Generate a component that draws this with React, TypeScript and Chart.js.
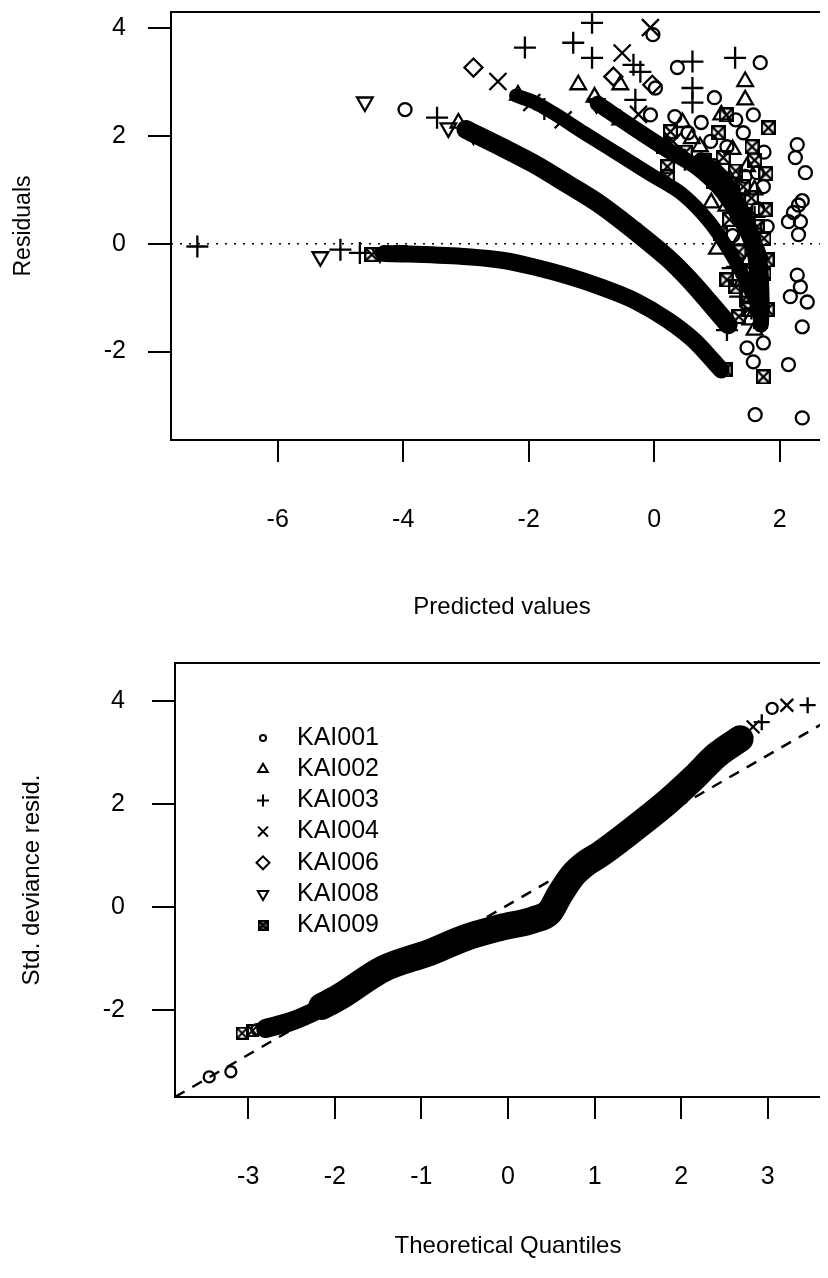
import React, { useEffect, useRef } from "react";
import { Chart, registerables } from "chart.js";
import { drawPoint } from "chart.js/helpers";

Chart.register(...registerables);

const FONT = "'Liberation Sans', Arial, Helvetica, sans-serif";

type P = [number, number];

const seriesNames = ["KAI001", "KAI002", "KAI003", "KAI004", "KAI006", "KAI008", "KAI009"];

// ---------- Top panel: [predicted value, residual] ----------
const residKAI001: P[] = [
  [-3.97, 2.49], [-0.02, 3.88], [0.02, 2.89], [-0.06, 2.39], [0.37, 3.27], [1.69, 3.36],
  [0.96, 2.71], [0.33, 2.36], [0.54, 2.06], [1.16, 1.8], [1.58, 2.39], [1.42, 2.06],
  [1.64, 1.32], [1.74, 1.06], [1.8, 0.32], [0.95, 1.45], [1.25, 0.95], [1.5, 0.25],
  [0.75, 2.25], [1.3, 2.3], [0.9, 1.9], [1.75, 1.7], [1.45, 1.25], [1.65, 0.65],
  [1.25, 0.15], [1.7, -1.1],
  [1.48, -1.93], [1.74, -1.84], [1.58, -2.19], [2.14, -2.24], [1.61, -3.17], [2.36, -3.23],
  [2.28, 1.84], [2.25, 1.6], [2.41, 1.32], [2.3, 0.72], [2.36, 0.8], [2.22, 0.58],
  [2.14, 0.41], [2.33, 0.41], [2.3, 0.17], [2.28, -0.58], [2.33, -0.8], [2.17, -0.98],
  [2.44, -1.08], [2.36, -1.54],
];
const residKAI002: P[] = [
  [-3.12, 2.24], [-2.17, 2.76], [-1.21, 2.95], [-0.54, 2.95], [-0.54, 2.3], [-0.95, 2.72],
  [1.07, 2.39], [1.45, 3.01], [1.45, 2.67], [0.73, 1.8], [1.48, 1.43], [0.91, 0.76],
  [1.37, 0.07], [1.48, -0.35], [1.53, -1.41], [0.45, 2.25], [1.2, 1.2], [1.0, -0.1],
  [0.6, 1.95], [1.25, 1.75], [1.6, 1.0], [1.15, 0.7], [1.7, -0.2], [1.4, -0.7], [1.6, -1.6],
];
const residKAI003: P[] = [
  [-7.28, -0.05], [-5.0, -0.11], [-4.69, -0.17], [-3.46, 2.34], [-2.06, 3.64], [-1.29, 3.73],
  [-0.99, 4.1], [-0.99, 3.45], [-0.33, 3.32], [-0.22, 3.19], [-0.3, 2.67], [0.61, 3.38],
  [0.61, 2.89], [0.61, 2.62], [1.29, 3.45], [0.49, 1.56], [1.32, -0.43], [1.37, -0.98],
  [1.16, -1.6], [-1.75, 2.5], [0.9, 1.2], [1.35, 0.9], [1.6, 0.5], [1.25, -0.45], [1.55, -1.2],
];
const residKAI004: P[] = [
  [-2.49, 3.01], [-0.51, 3.54], [-0.06, 4.01], [-1.95, 2.62], [-1.45, 2.3], [-0.25, 2.4], [0.3, 1.9],
];
const residKAI006: P[] = [
  [-2.88, 3.27], [-0.65, 3.1], [-0.03, 2.95],
];
const residKAI008: P[] = [
  [-4.61, 2.63], [-5.32, -0.24], [-4.37, -0.17], [-3.28, 2.15], [-2.88, 2.02], [-0.92, 2.6],
];
const residKAI009: P[] = [
  [-4.05, -0.17], [-4.5, -0.2], [1.15, 2.39], [1.82, 2.15], [1.02, 2.06], [0.26, 2.08],
  [0.15, 1.8], [1.56, 1.8], [0.21, 1.43], [0.21, 1.24], [1.42, 1.06], [1.26, 0.69],
  [1.77, 0.63], [1.64, 0.32], [1.05, 0.2], [1.8, -0.3], [1.16, -0.67], [1.64, -0.72],
  [1.8, -1.22], [1.5, -1.22], [1.13, -2.34], [1.74, -2.47], [1.7, -0.95], [1.78, 1.3],
  [0.5, 1.7], [0.8, 1.55], [1.1, 1.6], [1.3, 1.35], [1.6, 1.55], [0.95, 1.15],
  [1.55, 0.85], [1.2, 0.45], [1.45, 0.55], [1.75, 0.1], [1.35, -0.15], [1.55, -0.5],
  [1.75, -0.55], [1.3, -0.8], [1.5, -0.95], [1.7, -1.45], [1.35, -1.35],
];

// dense bands of overlapping markers (centre lines)
const residBandA: P[] = [
  [-4.3, -0.18], [-3.9, -0.19], [-2.97, -0.24], [-2.4, -0.31], [-1.91, -0.43], [-1.37, -0.6],
  [-0.85, -0.8], [-0.32, -1.05], [0.22, -1.42], [0.64, -1.8], [0.96, -2.2], [1.07, -2.34],
];
const residBandB: P[] = [
  [-3.0, 2.12], [-2.44, 1.8], [-1.91, 1.48], [-1.37, 1.1], [-0.85, 0.72], [-0.32, 0.25],
  [0.22, -0.27], [0.54, -0.64], [0.86, -1.06], [1.18, -1.5],
];
const residBandC: P[] = [
  [-2.2, 2.75], [-1.9, 2.62], [-1.6, 2.42], [-1.12, 2.06], [-0.57, 1.66], [-0.05, 1.28],
  [0.47, 0.9], [0.87, 0.42], [1.17, -0.08], [1.4, -0.55], [1.58, -0.98], [1.7, -1.3],
];
const residBandD: P[] = [
  [-0.9, 2.6], [-0.33, 2.15], [0.2, 1.75], [0.7, 1.4], [1.1, 0.95], [1.4, 0.4],
  [1.6, -0.15], [1.68, -0.7], [1.65, -1.2],
];
const residBandE: P[] = [
  [0.75, 1.55], [1.1, 1.2], [1.4, 0.6], [1.6, 0.0], [1.7, -0.6], [1.72, -1.2], [1.7, -1.5],
];

const predTicks = [-6, -4, -2, 0, 2];
const residTicks = [-2, 0, 2, 4];
const predLimits = [-7.7, 2.85];
const residLimits = [-3.64, 4.3];

// ---------- Bottom panel: [theoretical quantile, std. deviance residual] ----------
const qqKAI001: P[] = [[-3.45, -3.3], [-3.2, -3.2], [-2.9, -2.38], [3.05, 3.86], [2.5, 3.1]];
const qqKAI002: P[] = [[2.6, 3.22], [1.2, 1.2]];
const qqKAI003: P[] = [[2.93, 3.59], [3.46, 3.92], [2.72, 3.36]];
const qqKAI004: P[] = [[2.83, 3.5], [3.22, 3.92]];
const qqKAI006: P[] = [[0.3, -0.25], [-1.2, -1.05]];
const qqKAI008: P[] = [[-1.0, -0.95], [-2.2, -2.0]];
const qqKAI009: P[] = [[-3.07, -2.45], [-2.95, -2.4], [-2.82, -2.37]];

const qqBandLow: P[] = [[-2.8, -2.36], [-2.5, -2.22], [-2.2, -2.0], [-1.9, -1.72], [-1.6, -1.4]];
const qqBandMain: P[] = [
  [-2.15, -1.93], [-1.95, -1.75], [-1.44, -1.2], [-0.9, -0.88], [-0.5, -0.6], [-0.09, -0.4], [0.29, -0.25],
  [0.48, -0.1], [0.6, 0.25], [0.75, 0.62], [0.9, 0.85], [1.06, 1.02], [1.44, 1.5],
  [1.84, 2.04], [2.14, 2.5], [2.41, 2.95], [2.68, 3.27],
];

const qqXTicks = [-3, -2, -1, 0, 1, 2, 3];
const qqYTicks = [-2, 0, 2, 4];
const qqXLimits = [-3.845, 3.845];
const qqYLimits = [-3.69, 4.74];
const qqLineCoef = [0.04, 0.97]; // intercept, slope of the reference line

// ---------- helpers ----------
const toXY = (arr: P[]) => arr.map(([x, y]) => ({ x, y }));

function boxCross(size: number, lw: number) {
  const c = document.createElement("canvas");
  c.width = size;
  c.height = size;
  const g = c.getContext("2d")!;
  g.strokeStyle = "#000";
  g.lineWidth = lw;
  const h = lw / 2;
  g.strokeRect(h, h, size - lw, size - lw);
  g.beginPath();
  g.moveTo(h, h);
  g.lineTo(size - h, size - h);
  g.moveTo(size - h, h);
  g.lineTo(h, size - h);
  g.stroke();
  return c;
}

const boxPlugin = {
  id: "frameBox",
  afterDatasetsDraw(chart: any) {
    const { ctx, chartArea: a } = chart;
    ctx.save();
    ctx.strokeStyle = "#000";
    ctx.lineWidth = 2;
    ctx.strokeRect(a.left, a.top, a.right - a.left, a.bottom - a.top);
    ctx.restore();
  },
};

function zeroPad(s: any) {
  s.paddingTop = 0;
  s.paddingBottom = 0;
  s.paddingLeft = 0;
  s.paddingRight = 0;
}

function xAxis(ticks: number[], limits: number[], title: string, h: number, labelPad: number, titlePad: number) {
  return {
    type: "linear",
    position: "bottom",
    min: limits[0],
    max: limits[1],
    afterBuildTicks: (s: any) => {
      s.ticks = ticks.map((v) => ({ value: v }));
    },
    afterFit: (s: any) => {
      s.height = h;
      zeroPad(s);
    },
    grid: { display: true, drawOnChartArea: false, drawTicks: true, tickLength: 22, tickWidth: 2, tickColor: "#000", color: "#000", lineWidth: 2 },
    border: { display: false },
    ticks: { color: "#000", font: { family: FONT, size: 25 }, padding: labelPad, autoSkip: false, maxRotation: 0, callback: (v: any) => String(v) },
    title: { display: true, text: title, color: "#000", font: { family: FONT, size: 24 }, padding: { top: 0, bottom: titlePad } },
  };
}

function yAxis(ticks: number[], limits: number[], title: string, w: number, labelPad: number, titlePad: number, titleSize: number) {
  return {
    type: "linear",
    position: "left",
    min: limits[0],
    max: limits[1],
    afterBuildTicks: (s: any) => {
      s.ticks = ticks.map((v) => ({ value: v }));
    },
    afterFit: (s: any) => {
      s.width = w;
      zeroPad(s);
    },
    grid: { display: true, drawOnChartArea: false, drawTicks: true, tickLength: 23, tickWidth: 2, tickColor: "#000", color: "#000", lineWidth: 2 },
    border: { display: false },
    ticks: { color: "#000", font: { family: FONT, size: 25 }, padding: labelPad, autoSkip: false, callback: (v: any) => String(v) },
    title: { display: true, text: title, color: "#000", font: { family: FONT, size: titleSize }, padding: { top: titlePad, bottom: 0 } },
  };
}

function bandDataset(pts: P[], width: number) {
  return {
    type: "line",
    data: toXY(pts),
    borderColor: "#000",
    borderWidth: width,
    pointRadius: 0,
    cubicInterpolationMode: "monotone",
    borderCapStyle: "round",
    borderJoinStyle: "round",
    fill: false,
    order: 2,
  };
}

function markerDataset(pts: P[], st: any) {
  return {
    type: "scatter",
    data: toXY(pts),
    pointStyle: st.pointStyle,
    pointRadius: st.radius,
    pointRotation: st.rotation,
    pointBorderWidth: 2.3,
    pointBorderColor: "#000",
    pointBackgroundColor: "rgba(0,0,0,0)",
    order: 1,
  };
}

export default function App() {
  const topRef = useRef<HTMLCanvasElement>(null);
  const qqRef = useRef<HTMLCanvasElement>(null);

  useEffect(() => {
    const sqTop = boxCross(15, 2.2);
    const sqQQ = boxCross(13, 2);
    const sqLegend = boxCross(11, 2.5);

    const topStyles = [
      { pointStyle: "circle", radius: 6.5, rotation: 0 },
      { pointStyle: "triangle", radius: 9, rotation: 0 },
      { pointStyle: "cross", radius: 11, rotation: 0 },
      { pointStyle: "crossRot", radius: 12, rotation: 0 },
      { pointStyle: "rectRot", radius: 9, rotation: 0 },
      { pointStyle: "triangle", radius: 9, rotation: 180 },
      { pointStyle: sqTop, radius: 8, rotation: 0 },
    ];
    const qqStyles = [
      { pointStyle: "circle", radius: 5.5, rotation: 0 },
      { pointStyle: "triangle", radius: 7, rotation: 0 },
      { pointStyle: "cross", radius: 8, rotation: 0 },
      { pointStyle: "crossRot", radius: 9, rotation: 0 },
      { pointStyle: "rectRot", radius: 7, rotation: 0 },
      { pointStyle: "triangle", radius: 7, rotation: 180 },
      { pointStyle: sqQQ, radius: 7, rotation: 0 },
    ];
    const legendStyles = [
      { pointStyle: "circle", radius: 3, rotation: 0 },
      { pointStyle: "triangle", radius: 5.5, rotation: 0 },
      { pointStyle: "cross", radius: 6, rotation: 0 },
      { pointStyle: "crossRot", radius: 7, rotation: 0 },
      { pointStyle: "rectRot", radius: 6.5, rotation: 0 },
      { pointStyle: "triangle", radius: 6, rotation: 180 },
      { pointStyle: sqLegend, radius: 6, rotation: 0 },
    ];

    const topSeries = [residKAI001, residKAI002, residKAI003, residKAI004, residKAI006, residKAI008, residKAI009];
    const qqSeries = [qqKAI001, qqKAI002, qqKAI003, qqKAI004, qqKAI006, qqKAI008, qqKAI009];

    const legendPlugin = {
      id: "insetLegend",
      afterDraw(chart: any) {
        const { ctx, chartArea } = chart;
        ctx.save();
        seriesNames.forEach((name, i) => {
          const y = chartArea.top + 75 + i * 31.2;
          const sx = chartArea.left + 88;
          ctx.strokeStyle = "#000";
          ctx.fillStyle = "rgba(0,0,0,0)";
          ctx.lineWidth = 2;
          const s = legendStyles[i];
          drawPoint(ctx, { pointStyle: s.pointStyle, radius: s.radius, rotation: s.rotation, borderWidth: 2 } as any, sx, y);
          ctx.fillStyle = "#000";
          ctx.font = `25px ${FONT}`;
          ctx.textBaseline = "middle";
          ctx.textAlign = "left";
          ctx.fillText(name, chartArea.left + 122, y);
        });
        ctx.restore();
      },
    };

    const topChart = new Chart(topRef.current!, {
      type: "scatter",
      data: {
        datasets: [
          bandDataset(residBandA, 17),
          bandDataset(residBandB, 19),
          bandDataset(residBandC, 14),
          bandDataset(residBandD, 16),
          bandDataset(residBandE, 16),
          {
            type: "line",
            data: [
              { x: predLimits[0], y: 0 },
              { x: predLimits[1], y: 0 },
            ],
            borderColor: "#000",
            borderWidth: 1.5,
            borderDash: [2, 7],
            pointRadius: 0,
            fill: false,
            order: 3,
          },
          ...topSeries.map((s, i) => markerDataset(s, topStyles[i])),
        ] as any,
      },
      options: {
        responsive: false,
        animation: false,
        events: [],
        layout: { autoPadding: false, padding: { top: 4, right: 25, left: 0, bottom: 0 } },
        plugins: { legend: { display: false }, tooltip: { enabled: false } },
        scales: {
          x: xAxis(predTicks, predLimits, "Predicted values", 200, 43, 18),
          y: yAxis(residTicks, residLimits, "Residuals", 163, 22, 2, 23),
        } as any,
      },
      plugins: [boxPlugin],
    });

    const qqChart = new Chart(qqRef.current!, {
      type: "scatter",
      data: {
        datasets: [
          bandDataset(qqBandLow, 19),
          bandDataset(qqBandMain, 27),
          {
            type: "line",
            data: [
              { x: qqXLimits[0], y: qqLineCoef[0] + qqLineCoef[1] * qqXLimits[0] },
              { x: qqXLimits[1], y: qqLineCoef[0] + qqLineCoef[1] * qqXLimits[1] },
            ],
            borderColor: "#000",
            borderWidth: 2.5,
            borderDash: [11, 9],
            pointRadius: 0,
            fill: false,
            order: 3,
          },
          ...qqSeries.map((s, i) => markerDataset(s, qqStyles[i])),
        ] as any,
      },
      options: {
        responsive: false,
        animation: false,
        events: [],
        layout: { autoPadding: false, padding: { top: 23, right: 17, left: 0, bottom: 0 } },
        plugins: { legend: { display: false }, tooltip: { enabled: false } },
        scales: {
          x: xAxis(qqXTicks, qqXLimits, "Theoretical Quantiles", 171, 43, 7),
          y: yAxis(qqYTicks, qqYLimits, "Std. deviance resid.", 167, 27, 10, 24),
        } as any,
      },
      plugins: [boxPlugin, legendPlugin],
    });

    return () => {
      topChart.destroy();
      qqChart.destroy();
    };
  }, []);

  return (
    <div style={{ width: 820, overflow: "hidden", background: "#fff" }}>
      <canvas ref={topRef} width={850} height={632} style={{ display: "block", width: 850, height: 632 }} />
      <canvas ref={qqRef} width={850} height={628} style={{ display: "block", width: 850, height: 628 }} />
    </div>
  );
}
